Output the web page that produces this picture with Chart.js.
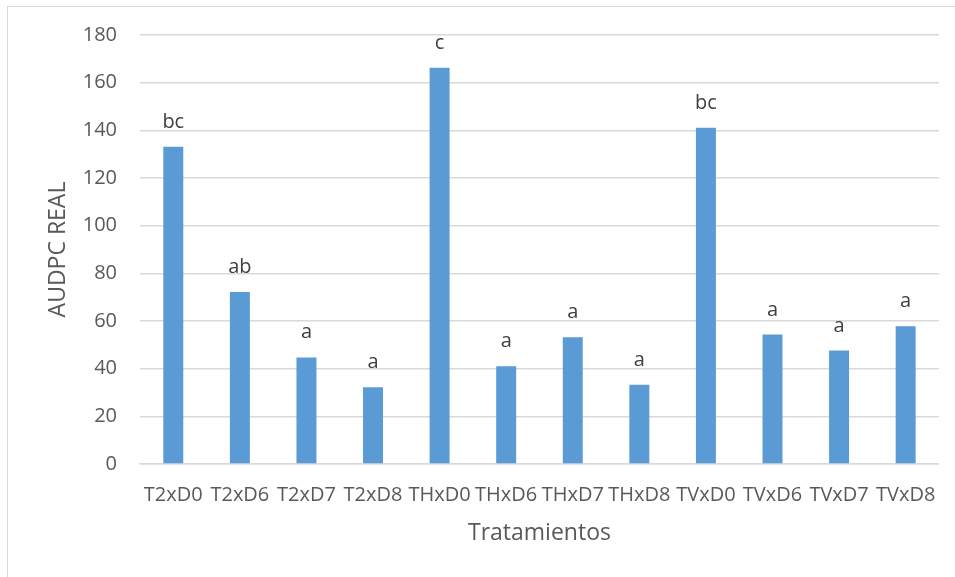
<!DOCTYPE html>
<html lang="es">
  <head>
    <meta charset="UTF-8" />
    <title>AUDPC REAL</title>
    <script src="https://cdn.jsdelivr.net/npm/chart.js"></script>
    <style>
      body { margin: 0; background: #ffffff; }
      #contenedor { position: relative; width: 955px; height: 577px; }
      #marco {
        position: absolute; left: 7px; top: 6px; right: 0; bottom: 0;
        border-left: 1px solid #d9d9d9; border-top: 1px solid #d9d9d9;
      }
      #grafico { position: absolute; left: 0; top: 0; }
    </style>
  </head>
  <body>
    <div id="contenedor">
      <div id="marco"></div>
      <canvas id="grafico" width="955" height="577"></canvas>
    </div>
  </body>
</html>
<script>
  // datos
  var tratamientos = ["T2xD0", "T2xD6", "T2xD7", "T2xD8", "THxD0", "THxD6", "THxD7", "THxD8", "TVxD0", "TVxD6", "TVxD7", "TVxD8"];
  var audpc = [133.1, 72.2, 44.7, 32.2, 166.3, 41.0, 53.2, 33.3, 141.1, 54.3, 47.6, 57.8];
  var letras = ["bc", "ab", "a", "a", "c", "a", "a", "a", "bc", "a", "a", "a"];
  var ticksY = [0, 20, 40, 60, 80, 100, 120, 140, 160, 180];

  var fuente = "'Open Sans', sans-serif";

  // letras de significancia encima de cada barra
  var pluginLetras = {
    id: "letras",
    afterDatasetsDraw: function (chart) {
      var ctx = chart.ctx;
      var meta = chart.getDatasetMeta(0);
      ctx.save();
      ctx.font = "20px " + fuente;
      ctx.fillStyle = "#404040";
      ctx.textAlign = "center";
      ctx.textBaseline = "alphabetic";
      for (var i = 0; i < meta.data.length; i++) {
        var barra = meta.data[i];
        ctx.fillText(letras[i], barra.x, barra.y - 19);
      }
      ctx.restore();
    },
  };

  var config = {
    type: "bar",
    data: {
      labels: tratamientos,
      datasets: [
        {
          label: "AUDPC REAL",
          data: audpc,
          backgroundColor: "#5b9bd5",
          borderWidth: 0,
          categoryPercentage: 1,
          barPercentage: 0.3,
        },
      ],
    },
    options: {
      responsive: false,
      animation: false,
      layout: { padding: { top: 35, right: 16, left: 0, bottom: 0 } },
      plugins: {
        legend: { display: false },
        tooltip: { enabled: false },
      },
      scales: {
        x: {
          grid: { display: false, drawTicks: false },
          border: { color: "#d9d9d9", width: 1.5 },
          ticks: {
            color: "#595959",
            font: { family: fuente, size: 20 },
            padding: 19,
            autoSkip: false,
            maxRotation: 0,
            minRotation: 0,
          },
          title: {
            display: true,
            text: "Tratamientos",
            color: "#595959",
            font: { family: fuente, size: 23 },
            padding: { top: 0, bottom: 30 },
          },
          afterFit: function (escala) {
            escala.height = 113;
          },
        },
        y: {
          min: 0,
          max: 180,
          afterBuildTicks: function (escala) {
            escala.ticks = ticksY.map(function (v) { return { value: v }; });
          },
          grid: { color: "#d9d9d9", lineWidth: 1.5, drawTicks: false },
          border: { display: false },
          ticks: {
            color: "#595959",
            font: { family: fuente, size: 20 },
            padding: 23,
          },
          title: {
            display: true,
            text: "AUDPC REAL",
            color: "#595959",
            font: { family: fuente, size: 23 },
            padding: { top: 45, bottom: 0 },
          },
          afterFit: function (escala) {
            escala.width = 140;
          },
        },
      },
    },
    plugins: [pluginLetras],
  };

  var miGrafico = new Chart(document.getElementById("grafico"), config);
</script>
